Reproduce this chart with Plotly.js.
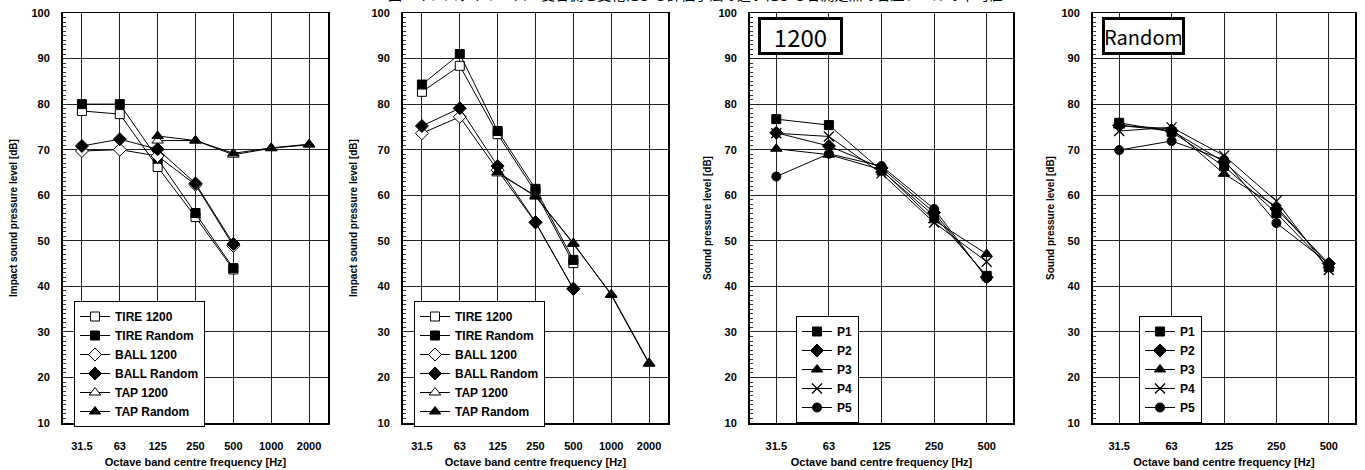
<!DOCTYPE html>
<html><head><meta charset="utf-8">
<script src="https://cdn.plot.ly/plotly-3.0.1.min.js"></script>
<style>html,body{margin:0;padding:0;background:#fff}#chart{width:1365px;height:470px}</style>
</head><body><div id="chart"></div>
<script>
// ---- data ----
const freqsWide = ['31.5','63','125','250','500','1000','2000'];
const freqsNarrow = ['31.5','63','125','250','500'];
const sourceNames = ['TIRE 1200','TIRE Random','BALL 1200','BALL Random','TAP 1200','TAP Random'];
const pointNames = ['P1','P2','P3','P4','P5'];
const panelLabels = ['1200','Random'];
const figureTitle = '図　インパクトソース・受音側を変化による評価手法の違いによる各測定点の音圧レベルの平均値';

// panel 1 (impact sound, set A)
const a_tire1200   = [78.5, 77.8, 66.2, 55.2, 43.7, null, null];
const a_tireRandom = [80.0, 80.0, 68.0, 56.1, 44.0, null, null];
const a_ball1200   = [69.7, 70.0, 68.6, 62.3, 48.9, null, null];
const a_ballRandom = [70.8, 72.3, 70.1, 62.6, 49.3, null, null];
const a_tap1200    = [null, null, 72.0, 72.0, 68.9, 70.3, 71.1];
const a_tapRandom  = [null, null, 73.0, 72.0, 69.2, 70.4, 71.2];
// panel 2 (impact sound, set B)
const b_tire1200   = [82.7, 88.4, 73.4, 60.7, 45.1, null, null];
const b_tireRandom = [84.3, 91.0, 74.1, 61.4, 45.8, null, null];
const b_ball1200   = [73.6, 77.2, 65.5, 54.0, 39.5, null, null];
const b_ballRandom = [75.2, 79.1, 66.4, 54.1, 39.4, null, null];
const b_tap1200    = [null, null, 64.8, 59.9, 49.3, 38.3, 23.2];
const b_tapRandom  = [null, null, 65.1, 59.7, 49.5, 38.1, 23.0];
// panel 3 (1200)
const c_p1 = [76.7, 75.4, 65.4, 55.5, 42.3];
const c_p2 = [73.7, 70.8, 66.0, 56.2, 42.0];
const c_p3 = [70.2, 68.9, 65.6, 54.5, 47.1];
const c_p4 = [73.6, 72.9, 64.8, 54.0, 45.4];
const c_p5 = [64.1, 69.1, 66.4, 57.0, 41.8];
// panel 4 (Random)
const d_p1 = [75.9, 73.9, 66.4, 56.1, 44.2];
const d_p2 = [75.3, 74.2, 67.3, 57.0, 45.0];
const d_p3 = [75.3, 74.6, 64.7, 57.5, 44.6];
const d_p4 = [74.1, 74.9, 68.7, 58.7, 43.6];
const d_p5 = [69.9, 71.9, 67.8, 53.9, 45.0];

// ---- styles ----
const FONT = 'Liberation Sans, Arial, sans-serif';
const styleA = [
  {symbol:'square', fill:'white', size:9},
  {symbol:'square', fill:'black', size:9},
  {symbol:'diamond', fill:'white', size:10},
  {symbol:'diamond', fill:'black', size:10},
  {symbol:'triangle-up', fill:'white', size:10},
  {symbol:'triangle-up', fill:'black', size:10}
];
const styleB = [
  {symbol:'square', fill:'black', size:9},
  {symbol:'diamond', fill:'black', size:10},
  {symbol:'triangle-up', fill:'black', size:10},
  {symbol:'x-thin-open', fill:'black', size:10},
  {symbol:'circle', fill:'black', size:9}
];

function mk(x, y, name, st, xa, ya, leg) {
  return {
    type:'scatter', mode:'lines+markers', x:x, y:y, name:name,
    xaxis:xa, yaxis:ya, legend:leg, connectgaps:false,
    line:{color:'black', width:1},
    marker:{symbol:st.symbol, size:st.size, color:st.fill,
            line:{color:'black', width: st.symbol==='x-thin-open' ? 1.3 : 1}}
  };
}

const traces = [];
[a_tire1200,a_tireRandom,a_ball1200,a_ballRandom,a_tap1200,a_tapRandom].forEach((s,i)=>
  traces.push(mk(freqsWide, s, sourceNames[i], styleA[i], 'x', 'y', 'legend')));
[b_tire1200,b_tireRandom,b_ball1200,b_ballRandom,b_tap1200,b_tapRandom].forEach((s,i)=>
  traces.push(mk(freqsWide, s, sourceNames[i], styleA[i], 'x2', 'y2', 'legend2')));
[c_p1,c_p2,c_p3,c_p4,c_p5].forEach((s,i)=>
  traces.push(mk(freqsNarrow, s, pointNames[i], styleB[i], 'x3', 'y3', 'legend3')));
[d_p1,d_p2,d_p3,d_p4,d_p5].forEach((s,i)=>
  traces.push(mk(freqsNarrow, s, pointNames[i], styleB[i], 'x4', 'y4', 'legend4')));

const W = 1365, H = 470;
const yDom = [1 - 423/H, 1 - 13/H];
function xax(dom, cats) {
  return {
    domain: dom, type:'category', categoryorder:'array', categoryarray:cats,
    range:[-0.5, cats.length - 0.5], fixedrange:true,
    showgrid:true, gridcolor:'#222', gridwidth:1,
    showline:true, linecolor:'black', linewidth:1.5, mirror:true,
    ticks:'', tickfont:{family:FONT, size:11, color:'black', weight:700},
    ticklabelstandoff: 12,
    title:{text:'Octave band centre frequency [Hz]', standoff:7,
           font:{family:FONT, size:11, color:'black', weight:700}}
  };
}
function yax(xanchor, titleText, standoff) {
  return {
    domain: yDom, anchor: xanchor, range:[10, 100], dtick:10, fixedrange:true,
    showgrid:true, gridcolor:'#222', gridwidth:1,
    showline:true, linecolor:'black', linewidth:2, mirror:true,
    ticks:'', zeroline:false,
    minor:{dtick:1, ticks:'inside', ticklen:3, tickcolor:'#333', tickwidth:1, showgrid:false},
    tickfont:{family:FONT, size:11, color:'black', weight:700},
    ticklabelstandoff: 9,
    title:{text:titleText, standoff:standoff,
           font:{family:FONT, size:10, color:'black', weight:700}}
  };
}
const xd1 = [63/W, 328/W], xd2 = [403/W, 668/W], xd3 = [750/W, 1013/W], xd4 = [1093/W, 1355/W];
const legBase = {bgcolor:'white', bordercolor:'black', borderwidth:1,
  font:{family:FONT, size:12, color:'black', weight:700},
  xanchor:'left', yanchor:'top', itemwidth:30, tracegroupgap:0, traceorder:'normal'};

const layout = {
  width: W, height: H, margin:{l:0, r:0, t:0, b:0},
  paper_bgcolor:'white', plot_bgcolor:'white',
  showlegend:true,
  xaxis: Object.assign(xax(xd1, freqsWide), {anchor:'y'}),
  yaxis: yax('x', 'Impact sound pressure level [dB]', 12),
  xaxis2: Object.assign(xax(xd2, freqsWide), {anchor:'y2'}),
  yaxis2: yax('x2', 'Impact sound pressure level [dB]', 12),
  xaxis3: Object.assign(xax(xd3, freqsNarrow), {anchor:'y3'}),
  yaxis3: yax('x3', 'Sound pressure level [dB]', 5),
  xaxis4: Object.assign(xax(xd4, freqsNarrow), {anchor:'y4'}),
  yaxis4: yax('x4', 'Sound pressure level [dB]', 5),
  legend:  Object.assign({}, legBase, {x: 74/W,  y: 1 - 301/H}),
  legend2: Object.assign({}, legBase, {x: 414/W, y: 1 - 301/H}),
  legend3: Object.assign({}, legBase, {x: 796/W, y: 1 - 316/H}),
  legend4: Object.assign({}, legBase, {x: 1139/W, y: 1 - 316/H}),
  annotations: [
    {text: panelLabels[0], xref:'paper', yref:'paper', x: 800/W, y: 1 - 36/H,
     xanchor:'center', yanchor:'middle', showarrow:false, width:77, height:30,
     bordercolor:'black', borderwidth:3, borderpad:1, bgcolor:'white',
     font:{family:'Noto Sans CJK JP, sans-serif', size:24, color:'black'}},
    {text: panelLabels[1], xref:'paper', yref:'paper', x: 1143/W, y: 1 - 36/H,
     xanchor:'center', yanchor:'middle', showarrow:false, width:75, height:30,
     bordercolor:'black', borderwidth:3, borderpad:1, bgcolor:'white',
     font:{family:'Noto Sans CJK JP, sans-serif', size:20, color:'black'}},
    {text: figureTitle, xref:'paper', yref:'paper', x: 695/W, y: 1, yshift: 6,
     xanchor:'center', yanchor:'middle', showarrow:false,
     font:{family:'Noto Sans CJK JP, sans-serif', size:14, color:'black'}}
  ]
};

Plotly.newPlot('chart', traces, layout, {displayModeBar:false, staticPlot:true});
</script>
</body></html>
